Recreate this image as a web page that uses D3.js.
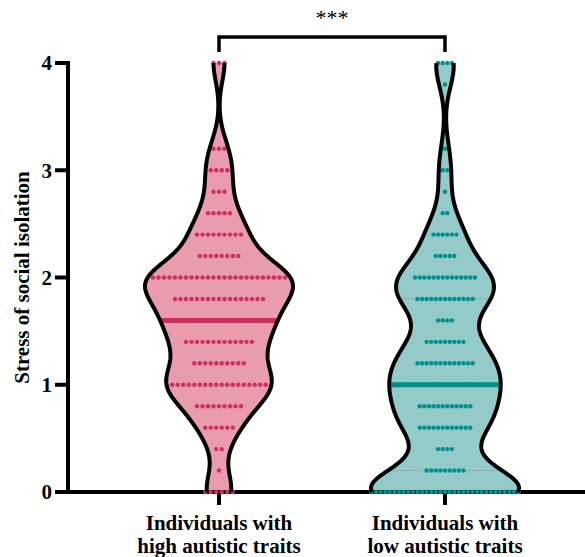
<!DOCTYPE html>
<html>
<head>
<meta charset="utf-8">
<script src="https://cdn.jsdelivr.net/npm/d3@7/dist/d3.min.js"></script>
<style>
  body { margin: 0; background: #fff; }
  svg text { font-family: "Liberation Serif", "Times New Roman", serif; }
</style>
</head>
<body>
<div class="chart"></div>
<script>
/* data: dot counts per score level (0..4 in steps of 0.2) */
var categories = ["high", "low"];
var categoryLines = [["Individuals with", "high autistic traits"], ["Individuals with", "low autistic traits"]];
var levels = [0, 0.2, 0.4, 0.6, 0.8, 1.0, 1.2, 1.4, 1.6, 1.8, 2.0, 2.2, 2.4, 2.6, 2.8, 3.0, 3.2, 3.4, 3.6, 3.8, 4.0];
var highCounts = [6, 1, 2, 6, 9, 18, 10, 13, 15, 17, 25, 8, 9, 5, 3, 4, 3, 0, 0, 0, 3];
var lowCounts = [33, 9, 4, 12, 12, 14, 13, 9, 4, 13, 14, 5, 6, 2, 1, 2, 1, 0, 0, 1, 4];
var medians = [1.6, 1.0];
var quartiles = [[1.0, 2.0], [0.2, 1.8]];
var yTicks = [0, 1, 2, 3, 4];
var yLabel = "Stress of social isolation";
var sigLabel = "***";

/*colours*/
var fillColors = ["#e99dac", "#94cac7"];
var dotColors = ["#cf2e5e", "#00918e"];
var medianColors = ["#c9305b", "#008e8a"];
var dotSpacing = [5.5, 4.6];

/*dimensions*/
var width = 585, height = 557;
var margin = {top: 63, bottom: 65, left: 68, right: 0};

var svg = d3.select(".chart").append("svg")
  .attr("width", width)
  .attr("height", height);

/*scales*/
var yScale = d3.scaleLinear()
  .domain([0, 4])
  .range([height - margin.bottom, margin.top]);

var xScale = d3.scalePoint()
  .domain(categories)
  .range([219 - 226 * 0.6, 445 + 226 * 0.6])
  .padding(0.6);

/*expand counts into raw values*/
function expand(counts) {
  var vals = [];
  counts.forEach(function(c, i) {
    for (var k = 0; k < c; k++) vals.push(levels[i]);
  });
  return vals;
}
var groups = [expand(highCounts), expand(lowCounts)];
var countsList = [highCounts, lowCounts];

/*gaussian kde*/
function kde(values, bw, grid) {
  return grid.map(function(y) {
    var s = 0;
    values.forEach(function(v) {
      var u = (y - v) / bw;
      s += Math.exp(-0.5 * u * u);
    });
    return [y, s / (values.length * bw * Math.sqrt(2 * Math.PI))];
  });
}

var bws = [0.17, 0.18];
var maxHalf = 74;

groups.forEach(function(vals, gi) {
  var cx = xScale(categories[gi]);
  var bw = bws[gi];
  var lo = d3.min(vals), hi = d3.max(vals);
  var grid = d3.range(lo, hi + 0.0001, 0.01);
  var dens = kde(vals, bw, grid);
  var dmax = d3.max(dens, function(d) { return d[1]; });
  var wScale = d3.scaleLinear().domain([0, dmax]).range([0, maxHalf]);

  var area = d3.area()
    .y(function(d) { return yScale(d[0]); })
    .x0(function(d) { return cx - wScale(d[1]); })
    .x1(function(d) { return cx + wScale(d[1]); })
    .curve(d3.curveLinear);

  svg.append("path")
    .datum(dens)
    .attr("class", "violin-fill")
    .attr("d", area)
    .attr("fill", fillColors[gi]);

  // quartile lines
  quartiles[gi].forEach(function(q) {
    var dq = kde(vals, bw, [q])[0][1];
    svg.append("line")
      .attr("x1", cx - wScale(dq))
      .attr("x2", cx + wScale(dq))
      .attr("y1", yScale(q))
      .attr("y2", yScale(q))
      .attr("stroke", "#7f9a98")
      .attr("stroke-width", 1)
      .attr("stroke-dasharray", "1.5,1.5");
  });

  groups[gi].wScale = wScale;
  groups[gi].dens = dens;
  groups[gi].bw = bw;
});

/*axes*/
svg.append("line")
  .attr("x1", margin.left).attr("x2", width)
  .attr("y1", yScale(0)).attr("y2", yScale(0))
  .attr("stroke", "#000").attr("stroke-width", 4);

svg.append("line")
  .attr("x1", margin.left).attr("x2", margin.left)
  .attr("y1", yScale(0) + 2).attr("y2", yScale(4) - 2)
  .attr("stroke", "#000").attr("stroke-width", 4);

var yAxis = svg.append("g").attr("class", "y-axis");
yAxis.selectAll("line")
  .data(yTicks)
  .enter().append("line")
  .attr("x1", 55).attr("x2", margin.left)
  .attr("y1", function(d) { return yScale(d); })
  .attr("y2", function(d) { return yScale(d); })
  .attr("stroke", "#000").attr("stroke-width", 4);
yAxis.selectAll("text")
  .data(yTicks)
  .enter().append("text")
  .attr("x", 52)
  .attr("y", function(d) { return yScale(d); })
  .attr("dy", "0.35em")
  .attr("text-anchor", "end")
  .attr("font-size", 21)
  .attr("font-weight", "bold")
  .text(function(d) { return d; });

var xAxis = svg.append("g").attr("class", "x-axis");
xAxis.selectAll("line")
  .data(categories)
  .enter().append("line")
  .attr("x1", function(d) { return xScale(d); })
  .attr("x2", function(d) { return xScale(d); })
  .attr("y1", yScale(0))
  .attr("y2", yScale(0) + 13)
  .attr("stroke", "#000").attr("stroke-width", 4);

categories.forEach(function(c, i) {
  var t = xAxis.append("text")
    .attr("x", xScale(c))
    .attr("y", 530)
    .attr("text-anchor", "middle")
    .attr("font-size", 21)
    .attr("font-weight", "bold");
  categoryLines[i].forEach(function(line, li) {
    t.append("tspan")
      .attr("x", xScale(c))
      .attr("dy", li == 0 ? 0 : 23)
      .text(line);
  });
});

svg.append("text")
  .attr("transform", "translate(29," + yScale(2) + ") rotate(-90)")
  .attr("text-anchor", "middle")
  .attr("font-size", 21)
  .attr("font-weight", "bold")
  .text(yLabel);

/*dots, median and outline*/
groups.forEach(function(vals, gi) {
  var cx = xScale(categories[gi]);
  var pts = [];
  countsList[gi].forEach(function(c, li) {
    for (var k = 0; k < c; k++) {
      pts.push({x: cx + (k - (c - 1) / 2) * dotSpacing[gi], v: levels[li]});
    }
  });
  svg.append("g").selectAll("circle")
    .data(pts)
    .enter().append("circle")
    .attr("cx", function(d) { return d.x; })
    .attr("cy", function(d) { return yScale(d.v); })
    .attr("r", 2.2)
    .attr("fill", dotColors[gi]);

  var wScale = vals.wScale;
  var dm = kde(vals, vals.bw, [medians[gi]])[0][1];
  svg.append("line")
    .attr("x1", cx - wScale(dm))
    .attr("x2", cx + wScale(dm))
    .attr("y1", yScale(medians[gi]))
    .attr("y2", yScale(medians[gi]))
    .attr("stroke", medianColors[gi])
    .attr("stroke-width", 5);

  var side = function(sign) {
    return d3.line()
      .x(function(d) { return cx + sign * wScale(d[1]); })
      .y(function(d) { return yScale(d[0]); });
  };
  [-1, 1].forEach(function(sign) {
    svg.append("path")
      .datum(vals.dens)
      .attr("d", side(sign))
      .attr("fill", "none")
      .attr("stroke", "#000")
      .attr("stroke-width", 4)
      .attr("stroke-linejoin", "round");
  });
});

/*significance bracket*/
var bx1 = xScale(categories[0]), bx2 = xScale(categories[1]);
svg.append("path")
  .attr("d", "M" + bx1 + ",52 L" + bx1 + ",37 L" + bx2 + ",37 L" + bx2 + ",52")
  .attr("fill", "none")
  .attr("stroke", "#000")
  .attr("stroke-width", 3.5);

svg.append("text")
  .attr("x", (bx1 + bx2) / 2)
  .attr("y", 25)
  .attr("text-anchor", "middle")
  .attr("font-size", 22)
  .text(sigLabel);
</script>
</body>
</html>
